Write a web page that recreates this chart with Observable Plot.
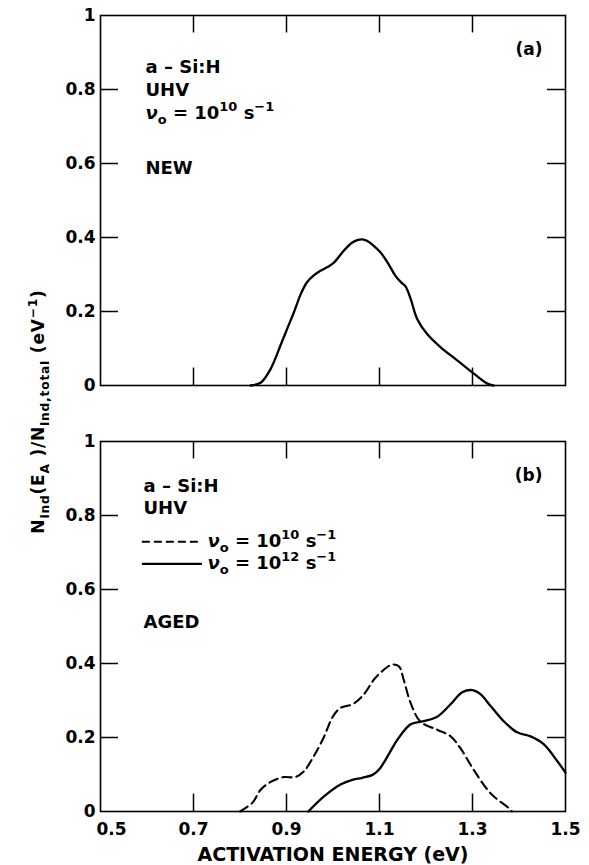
<!DOCTYPE html>
<html><head><meta charset="utf-8">
<script src="https://cdn.jsdelivr.net/npm/d3@7"></script>
<script src="https://cdn.jsdelivr.net/npm/@observablehq/plot@0.6"></script>
<style>
html,body{margin:0;padding:0;background:#fff;}
#chart{width:589px;height:865px;}
</style></head><body><div id="chart"></div>
<script>
// ---- data ----
const panels = ["a", "b"];
const panelTags = ["(a)", "(b)"];
// (a) NEW, nu0 = 1e10 s^-1
const energyNew  = [0.823,0.845,0.866,0.887,0.902,0.916,0.930,0.944,0.958,0.973,0.988,1.002,1.023,1.040,1.052,1.063,1.073,1.087,1.102,1.120,1.134,1.147,1.156,1.167,1.181,1.202,1.231,1.267,1.303,1.332,1.345];
const densityNew = [0,0.008,0.045,0.108,0.155,0.198,0.245,0.279,0.297,0.31,0.32,0.332,0.364,0.385,0.393,0.395,0.391,0.378,0.36,0.327,0.297,0.278,0.268,0.234,0.18,0.14,0.104,0.068,0.032,0.005,0];
// (b) AGED, nu0 = 1e10 s^-1 (dashed)
const energyAged10  = [0.80,0.827,0.844,0.866,0.894,0.919,0.937,0.958,0.980,0.999,1.016,1.042,1.066,1.087,1.102,1.127,1.142,1.152,1.167,1.188,1.224,1.253,1.274,1.303,1.339,1.378,1.385];
const densityAged10 = [0,0.024,0.058,0.08,0.093,0.093,0.108,0.148,0.2,0.255,0.28,0.29,0.316,0.355,0.375,0.397,0.392,0.356,0.293,0.243,0.221,0.203,0.171,0.112,0.049,0.009,0];
// (b) AGED, nu0 = 1e12 s^-1 (solid)
const energyAged12  = [0.947,0.980,1.016,1.040,1.063,1.085,1.100,1.120,1.139,1.167,1.195,1.225,1.253,1.278,1.300,1.317,1.339,1.367,1.396,1.425,1.453,1.483,1.5];
const densityAged12 = [0,0.04,0.073,0.085,0.091,0.099,0.115,0.155,0.195,0.236,0.244,0.257,0.29,0.322,0.328,0.317,0.285,0.244,0.214,0.203,0.182,0.135,0.105];

const yTicks = [0, 0.2, 0.4, 0.6, 0.8, 1];
const yInnerTicks = [0.2, 0.4, 0.6, 0.8];
const xTicks = [0.5, 0.7, 0.9, 1.1, 1.3, 1.5];
const xInnerTicks = [0.7, 0.9, 1.1, 1.3];
const seriesLabels = ["ν_{o} = 10^{10} s^{−1}", "ν_{o} = 10^{12} s^{−1}"];
const xLabel = "ACTIVATION ENERGY (eV)";
const yLabel = "N_{ind}(E_{A} )/N_{ind,total} (eV^{−1})";

// ---- tables ----
const rowsNew = energyNew.map((e, i) => ({panel: "a", e, v: densityNew[i]}));
const rows10 = energyAged10.map((e, i) => ({panel: "b", e, v: densityAged10[i]}));
const rows12 = energyAged12.map((e, i) => ({panel: "b", e, v: densityAged12[i]}));

const W = 589, H = 865, mL = 100, mR = 24, mT = 15, mB = 53;
const pad = 0.131;
const bandH = (H - mT - mB) / (2 - pad) * (1 - pad);
const frameW = W - mL - mR;
const TL = 18;

function note(panel, text, dx, dy, extra = {}) {
  return Plot.text([text], {text: d => d, fy: [panel], frameAnchor: "top-left", dx, dy,
    textAnchor: "start", lineAnchor: "bottom", fontSize: 18, ...extra});
}

const plot = Plot.plot({
  width: W, height: H,
  marginLeft: mL, marginRight: mR, marginTop: mT, marginBottom: mB,
  style: {fontFamily: "'DejaVu Sans', sans-serif", fontWeight: "bold", fontSize: "17px", background: "white"},
  x: {domain: [0.5, 1.5]},
  y: {domain: [0, 1]},
  fy: {domain: panels, axis: null, paddingInner: pad, paddingOuter: 0},
  marks: [
    Plot.frame({strokeWidth: 1.6}),
    // inward ticks
    Plot.tickX(xInnerTicks, {x: d => d, insetBottom: bandH - TL, strokeWidth: 1.5}),
    Plot.tickX(xInnerTicks, {x: d => d, insetTop: bandH - TL, strokeWidth: 1.5}),
    Plot.tickY(yInnerTicks, {y: d => d, insetRight: frameW - TL, strokeWidth: 1.5}),
    Plot.tickY(yInnerTicks, {y: d => d, insetLeft: frameW - TL, strokeWidth: 1.5}),
    // axes labels
    Plot.axisY(yTicks, {anchor: "left", tickSize: 0, tickPadding: 5, fontSize: 17, label: null, tickFormat: d => String(d)}),
    Plot.axisX(xTicks.slice(1), {anchor: "bottom", tickSize: 0, tickPadding: 11, fontSize: 17, label: null, tickFormat: d => String(d)}),
    Plot.axisX(xTicks.slice(0, 1), {anchor: "bottom", tickSize: 0, tickPadding: 11, fontSize: 17, label: null, dx: 11, tickFormat: d => String(d)}),
    Plot.text([xLabel], {text: d => d, fy: ["b"], frameAnchor: "bottom", dy: 49, lineAnchor: "bottom", fontSize: 19}),
    Plot.text([yLabel], {text: d => d, fy: ["a"], frameAnchor: "bottom-left", dx: -57, dy: 26, rotate: -90,
      textAnchor: "middle", lineAnchor: "bottom", fontSize: 17}),
    // curves
    Plot.line(rowsNew, {x: "e", y: "v", fy: "panel", curve: "catmull-rom", strokeWidth: 2.3}),
    Plot.line(rows10, {x: "e", y: "v", fy: "panel", curve: "catmull-rom", strokeWidth: 2.1, strokeDasharray: "9,5"}),
    Plot.line(rows12, {x: "e", y: "v", fy: "panel", curve: "catmull-rom", strokeWidth: 2.3}),
    // panel tags
    Plot.text(panelTags, {text: d => d, fy: panels, frameAnchor: "top-right", dx: -23, dy: 39,
      textAnchor: "end", lineAnchor: "bottom", fontSize: 17}),
    // panel a notes
    note("a", "a – Si:H", 45, 57),
    note("a", "UHV", 45, 80),
    note("a", seriesLabels[0], 45, 103),
    note("a", "NEW", 45, 158),
    // panel b notes and legend
    note("b", "a – Si:H", 43, 50),
    note("b", "UHV", 43, 72),
    Plot.ruleY([0.729], {fy: ["b"], x1: 0.59, x2: 0.719, strokeWidth: 2, strokeDasharray: "8,4"}),
    Plot.ruleY([0.669], {fy: ["b"], x1: 0.59, x2: 0.719, strokeWidth: 2.2}),
    note("b", seriesLabels[0], 107, 105),
    note("b", seriesLabels[1], 107, 127),
    note("b", "AGED", 43, 186)
  ]
});

document.getElementById("chart").appendChild(plot);

// rich text: sub/superscripts and italic nu
function richify(root) {
  const NS = "http://www.w3.org/2000/svg";
  root.querySelectorAll("text").forEach(t => {
    const s = t.textContent;
    if (!/[_^]\{|ν/.test(s)) return;
    const fs = parseFloat(getComputedStyle(t).fontSize);
    if (s === yLabel) t.style.letterSpacing = "0.8px";
    t.textContent = "";
    let cur = 0;
    const add = (str, shift, scale) => {
      if (!str) return;
      const parts = str.split(/(ν)/);
      parts.forEach(p => {
        if (!p) return;
        const ts = document.createElementNS(NS, "tspan");
        if (shift !== cur) { ts.setAttribute("dy", (shift - cur) + "px"); cur = shift; }
        if (scale !== 1) ts.setAttribute("font-size", (fs * scale) + "px");
        if (p === "ν") ts.setAttribute("font-style", "italic");
        ts.textContent = p;
        t.appendChild(ts);
      });
    };
    const re = /([_^])\{([^}]*)\}/g;
    let last = 0, m;
    while ((m = re.exec(s))) {
      add(s.slice(last, m.index), 0, 1);
      add(m[2], m[1] === "_" ? fs * 0.32 : -fs * 0.4, 0.72);
      last = re.lastIndex;
    }
    add(s.slice(last), 0, 1);
  });
}
richify(plot);
</script></body></html>
